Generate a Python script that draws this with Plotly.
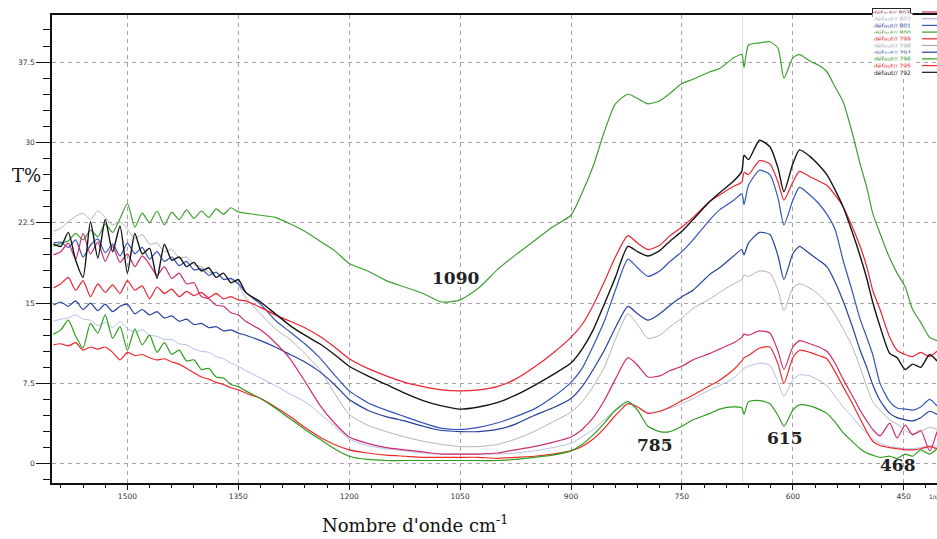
import plotly.graph_objects as go

# ---------------- data ----------------
wavenumber = [1600, 1590, 1580, 1570, 1560, 1550, 1540, 1530, 1520, 1510,
              1500, 1490, 1480, 1470, 1460, 1450, 1440, 1430, 1420, 1410,
              1400, 1390, 1380, 1370, 1360, 1350,
              1340, 1320, 1300, 1280, 1260, 1240, 1220, 1200,
              1175, 1150, 1125, 1100, 1075, 1050, 1025, 1000,
              975, 950, 925, 900,
              885, 870, 855, 840, 823, 810, 796, 780,
              766, 750, 735, 712, 699, 680, 669, 666,
              660, 645, 631, 620, 612, 600, 591, 577,
              565, 554, 543, 532, 520, 509, 500, 492,
              482, 469, 459, 448, 438, 427, 415, 405]

t_800 = [20.3, 20.6, 20.8, 21.5, 20.9, 21.8, 21.2, 22.4, 21.6, 22.9,
         24.3, 22.1, 23.4, 22.5, 23.6, 22.3, 23.5, 22.8, 23.7, 22.9,
         23.6, 23.0, 23.8, 23.3, 23.9, 23.5,
         23.4, 23.2, 23.0, 22.4, 21.7, 20.8, 19.9, 18.7,
         18.0, 17.1, 16.5, 15.9, 15.1, 15.3, 16.4, 18.1,
         19.5, 20.8, 22.1, 23.2,
         25.3, 27.8, 31.0, 33.6, 34.5, 34.1, 33.6, 33.9,
         34.6, 35.5, 35.9, 36.6, 36.9, 37.9, 38.2, 37.0,
         39.1, 39.3, 39.4, 38.8, 36.0, 37.9, 38.2, 37.6,
         37.2, 36.6, 35.2, 33.8, 31.0, 28.0, 25.8, 23.4,
         21.5, 19.2, 17.8, 16.5, 14.4, 13.2, 11.8, 11.5]

t_792 = [20.5, 20.3, 21.6, 19.0, 17.4, 22.6, 19.2, 22.8, 19.8, 22.2,
         17.8, 21.5, 19.6, 20.1, 17.3, 20.5, 19.0, 19.3, 18.4, 18.8,
         18.0, 18.3, 17.4, 17.8, 16.9, 17.2,
         16.0, 15.1, 14.0, 12.9, 12.0, 11.2, 10.2, 9.1,
         8.2, 7.4, 6.6, 5.9, 5.4, 5.1, 5.3, 5.7,
         6.4, 7.3, 8.3, 9.4,
         10.7, 12.5, 14.9, 17.4, 20.3, 19.8, 19.4, 19.9,
         20.8, 21.7, 22.8, 24.5, 25.3, 26.4, 27.3, 28.8,
         28.4, 30.2, 29.6, 27.6, 25.4, 28.0, 29.3, 28.7,
         27.9, 27.0, 25.6, 24.0, 21.7, 19.4, 17.3, 15.1,
         12.8, 10.3, 9.9, 8.8, 9.3, 9.0, 10.2, 9.6]

t_799 = [16.4, 16.8, 17.4, 16.2, 17.1, 15.6, 16.8, 16.0, 16.7, 15.9,
         17.1, 16.2, 16.6, 15.4, 16.5, 15.9, 16.3, 15.6, 16.1, 15.7,
         16.0, 15.5, 15.9, 15.4, 15.6, 15.3,
         15.2, 14.6, 13.9, 13.3, 12.7, 11.9, 10.9, 9.8,
         8.9, 8.2, 7.6, 7.2, 6.9, 6.8, 6.9, 7.2,
         7.9, 9.0, 10.3, 11.8,
         13.0, 14.8, 17.0, 19.3, 21.3, 20.6, 20.0, 20.4,
         21.3, 22.1, 23.0, 24.5, 25.1, 25.9, 26.3, 27.2,
         27.0, 28.3, 28.0, 26.3, 24.6, 26.3, 27.3, 26.8,
         26.4, 26.0, 25.1, 24.0, 22.2, 20.3, 18.4, 16.2,
         14.4, 11.8, 10.6, 10.2, 10.0, 10.4, 10.0, 10.5]

t_801 = [20.6, 20.7, 20.2, 20.9, 19.3, 20.4, 21.0, 19.7, 20.5, 19.4,
         20.6, 19.6, 20.2, 19.1, 19.8, 18.9, 19.3, 18.5, 18.9, 18.1,
         18.2, 17.6, 17.9, 17.2, 17.3, 16.8,
         16.0, 14.9, 13.4, 12.3, 11.2, 9.9, 8.3, 6.8,
         5.7, 5.0, 4.4, 3.8, 3.3, 3.2, 3.4, 3.8,
         4.4, 5.1, 6.2, 7.6,
         8.9, 11.0, 13.3, 16.2, 19.1, 18.3, 17.5, 18.0,
         18.9, 19.8, 20.9, 22.8, 23.7, 24.6, 25.2, 24.2,
         26.0, 27.4, 27.0, 24.8, 22.3, 24.6, 25.8, 25.1,
         24.3, 23.3, 21.9, 19.0, 16.2, 13.5, 11.8, 10.2,
         7.5, 5.8, 5.2, 5.1, 5.0, 5.3, 6.0, 5.4]

t_797 = [14.8, 15.1, 14.7, 15.2, 14.4, 15.0, 14.3, 14.9, 14.2, 14.7,
         14.9, 14.0, 14.4, 13.9, 14.2, 13.6, 13.8, 13.3, 13.5, 13.0,
         13.1, 12.7, 12.8, 12.4, 12.5, 12.2,
         12.0, 11.5, 10.9, 10.2, 9.5, 8.6, 7.4, 6.0,
         5.0, 4.4, 4.0, 3.5, 3.1, 3.0, 3.0, 3.2,
         3.7, 4.5, 5.2, 6.1,
         7.2, 8.8, 10.6, 12.7, 14.7, 14.0, 13.4, 14.0,
         14.8, 15.6, 16.2, 17.7, 18.3, 19.4, 20.0, 19.5,
         20.6, 21.6, 21.4, 19.4, 17.2, 19.6, 20.3, 19.6,
         19.0, 18.4, 17.0, 15.2, 12.9, 10.6, 9.0, 7.4,
         5.9, 4.7, 4.3, 4.1, 4.0, 4.3, 4.9, 4.6]

t_798 = [21.7, 22.0, 22.6, 23.1, 23.4, 22.8, 23.6, 23.0, 22.3, 22.6,
         21.9, 21.0, 21.4, 20.5, 20.6, 19.8, 20.0, 19.2, 19.3, 18.6,
         18.4, 17.9, 17.8, 17.3, 17.2, 16.7,
         15.5, 14.0, 12.6, 11.6, 10.3, 8.8, 6.6, 4.6,
         3.6, 3.0, 2.5, 2.1, 1.8, 1.6, 1.6, 1.8,
         2.3, 3.0, 3.9, 4.8,
         5.8, 7.2, 9.0, 11.6, 14.0, 13.0, 11.7, 12.0,
         12.8, 13.6, 14.5, 15.4, 16.0, 16.8, 17.2, 17.6,
         17.5, 18.0, 17.8, 16.2, 14.3, 16.4, 16.8, 16.4,
         15.8, 15.0, 13.9, 12.6, 11.0, 9.0, 7.2, 5.8,
         5.0, 4.1, 3.7, 3.1, 2.8, 3.0, 3.4, 3.2]

t_803 = [19.5, 19.8, 20.6, 19.1, 21.5, 19.6, 20.7, 18.9, 20.3, 18.8,
         19.6, 18.4, 19.4, 18.6, 17.6, 18.4, 17.3, 17.8, 16.8, 16.9,
         15.6, 15.4, 14.8, 14.7, 14.1, 13.9,
         13.3, 12.5, 11.3, 9.8, 7.7, 5.5, 3.8, 2.5,
         1.9, 1.5, 1.3, 1.1, 0.9, 0.9, 0.9, 1.0,
         1.3, 1.6, 2.0, 2.5,
         3.2, 4.3, 5.9, 7.9, 9.9, 9.2, 8.1, 8.2,
         8.7, 9.1, 9.7, 10.3, 10.7, 11.3, 11.8, 12.1,
         12.0, 12.4, 12.2, 10.5, 8.8, 10.9, 11.5, 11.2,
         10.9, 10.5, 9.4, 7.9, 6.4, 5.0, 4.0, 3.2,
         2.6, 3.8, 2.4, 3.6, 2.7, 3.1, 1.2, 3.0]

t_795 = [11.1, 11.2, 11.0, 11.3, 10.6, 10.9, 10.7, 10.9, 10.4, 9.7,
         10.4, 10.1, 10.2, 9.9, 9.7, 9.8, 9.5, 9.3, 8.9, 8.5,
         8.1, 7.9, 7.6, 7.4, 7.1, 6.9,
         6.6, 6.1, 5.3, 4.4, 3.4, 2.5, 1.8, 1.3,
         1.0, 0.8, 0.7, 0.6, 0.6, 0.6, 0.6, 0.5,
         0.6, 0.7, 0.9, 1.2,
         1.6, 2.3, 3.3, 4.5, 5.6, 5.3, 4.7, 4.9,
         5.3, 5.9, 6.4, 7.3, 7.8, 8.8, 9.6, 9.9,
         10.1, 10.8, 10.9, 9.3, 7.5, 9.9, 10.6, 10.4,
         10.1, 9.8, 8.6, 7.2, 5.7, 4.2, 3.0, 2.1,
         1.7, 1.5, 1.4, 1.3, 1.3, 1.4, 1.6, 1.4]

t_802 = [13.3, 13.5, 13.6, 13.9, 13.5, 13.4, 12.9, 13.2, 12.7, 13.3,
         12.6, 12.3, 12.5, 12.0, 11.9, 11.6, 11.6, 11.2, 11.1, 10.7,
         10.5, 10.4, 10.0, 9.8, 9.4, 9.1,
         8.7, 8.0, 7.3, 6.5, 5.8, 4.7, 3.5, 2.3,
         1.7, 1.4, 1.2, 1.0, 0.9, 0.9, 0.9, 0.9,
         1.0, 1.2, 1.5, 1.9,
         2.5, 3.2, 4.1, 5.0, 5.6, 5.3, 4.8, 4.9,
         5.2, 5.6, 6.1, 6.9, 7.3, 8.0, 8.7, 8.9,
         9.1, 9.4, 9.2, 7.6, 6.3, 7.8, 8.3, 8.2,
         7.8, 7.3, 6.3, 5.3, 4.4, 3.5, 2.8, 2.3,
         1.9, 1.6, 1.5, 1.4, 1.4, 1.5, 1.7, 1.6]

t_796 = [12.1, 12.5, 13.4, 11.9, 10.8, 13.1, 12.2, 13.9, 11.7, 12.8,
         10.6, 12.6, 11.1, 12.0, 10.4, 11.3, 10.2, 10.6, 9.6, 9.7,
         8.8, 8.9, 8.1, 8.0, 7.4, 7.2,
         6.8, 6.1, 5.2, 4.2, 3.2, 2.3, 1.4, 0.7,
         0.4, 0.3, 0.3, 0.3, 0.3, 0.3, 0.3, 0.3,
         0.4, 0.6, 0.8, 1.2,
         1.8, 2.7, 3.8, 5.0, 5.8, 5.0, 3.5, 3.0,
         3.0, 3.5, 4.1, 4.7, 5.1, 5.3, 5.2, 4.6,
         5.8, 5.9, 5.6, 4.5, 3.5, 5.0, 5.5, 5.4,
         5.1, 4.7, 3.9, 2.9, 2.1, 1.4, 1.0, 0.8,
         0.6, 0.7, 0.5, 0.9, 0.7, 1.3, 0.9, 1.4]

legend_names = ["défaut// 803", "défaut// 802", "défaut// 801", "défaut// 800",
                "défaut// 799", "défaut// 798", "défaut// 797", "défaut// 796",
                "défaut// 795", "défaut// 792"]

peak_labels = ["1090", "785", "615", "468"]
peak_x = [1056, 786, 610, 458]
peak_y = [17.3, 1.75, 2.4, -0.1]

co2_band = 668

# ---------------- styling ----------------
series = {
    "défaut// 803": (t_803, "#cc2d6e", 1.2, "#8a1f3c"),
    "défaut// 802": (t_802, "#a9b6e6", 0.9, "#a8b0d4"),
    "défaut// 801": (t_801, "#3455b8", 1.2, "#2b3e9e"),
    "défaut// 800": (t_800, "#3ea030", 1.2, "#2e8f22"),
    "défaut// 799": (t_799, "#ec2330", 1.2, "#e0202a"),
    "défaut// 798": (t_798, "#a8a8b0", 0.9, "#a8a8b0"),
    "défaut// 797": (t_797, "#25409a", 1.2, "#2b3e9e"),
    "défaut// 796": (t_796, "#2f9d1f", 1.2, "#2e8f22"),
    "défaut// 795": (t_795, "#ee2a2a", 1.2, "#e0202a"),
    "défaut// 792": (t_792, "#141414", 1.4, "#222222"),
}
draw_order = ["défaut// 800", "défaut// 798", "défaut// 802", "défaut// 797",
              "défaut// 801", "défaut// 803", "défaut// 795", "défaut// 796",
              "défaut// 799", "défaut// 792"]

fig = go.Figure()
for name in draw_order:
    vals, col, w, _ = series[name]
    fig.add_trace(go.Scatter(x=wavenumber, y=vals, mode="lines", name=name,
                             line=dict(color=col, width=w, shape="spline", smoothing=0.6),
                             showlegend=False))

W, H = 937, 539
ML, MR, MT, MB = 52, 0, 15, 56
pw, ph = W - ML - MR, H - MT - MB

def px_to_paper(px, py):
    return (px - ML) / pw, (H - MB - py) / ph

shapes = [dict(type="line", xref="x", yref="paper", x0=co2_band, x1=co2_band,
               y0=0, y1=1, line=dict(color="#dcdcdc", width=1), layer="below")]
annotations = []

# compact legend (top right)
for i, name in enumerate(legend_names):
    _, col, _, tcol = series[name]
    ypx = 12 + i * 6.7
    xp, yp = px_to_paper(872, ypx)
    ann = dict(xref="paper", yref="paper", x=xp, y=yp, xanchor="left", yanchor="middle",
               text=name, showarrow=False,
               font=dict(family="DejaVu Sans", size=6, color=tcol), bgcolor="white")
    if i == 0:
        ann.update(bordercolor="#222", borderwidth=1, borderpad=0)
    annotations.append(ann)
    x0, _ = px_to_paper(922, ypx)
    shapes.append(dict(type="line", xref="paper", yref="paper", x0=x0, x1=1.0,
                       y0=yp, y1=yp, line=dict(color=col, width=1.2)))

# peak labels
for lab, xv, yv in zip(peak_labels, peak_x, peak_y):
    annotations.append(dict(x=xv, y=yv, xref="x", yref="y", text="<b>" + lab + "</b>",
                            showarrow=False,
                            font=dict(family="DejaVu Serif", size=17, color="#222"),
                            xanchor="center", yanchor="middle"))

# axis titles
xp, yp = px_to_paper(26, 175)
annotations.append(dict(xref="paper", yref="paper", x=xp, y=yp, text="T%", showarrow=False,
                        font=dict(family="DejaVu Serif", size=18, color="#111"),
                        xanchor="center", yanchor="middle"))
xp, yp = px_to_paper(415, 524)
annotations.append(dict(xref="paper", yref="paper", x=xp, y=yp,
                        text="Nombre d'onde cm<sup>-1</sup>", showarrow=False,
                        font=dict(family="DejaVu Serif", size=18, color="#111"),
                        xanchor="center", yanchor="middle"))
xp, yp = px_to_paper(927, 497)
annotations.append(dict(xref="paper", yref="paper", x=xp, y=yp, text="1/cm", showarrow=False,
                        font=dict(family="DejaVu Sans", size=6, color="#333"),
                        xanchor="left", yanchor="middle"))

grid_dash = "4px,4px"
fig.update_layout(
    width=W, height=H,
    margin=dict(l=ML, r=MR, t=MT, b=MB, autoexpand=False),
    paper_bgcolor="white", plot_bgcolor="white",
    showlegend=False,
    shapes=shapes, annotations=annotations,
    xaxis=dict(range=[1602, 405], tick0=0, dtick=150, automargin=False,
               showgrid=True, gridcolor="#aaa2aa", griddash=grid_dash, gridwidth=1,
               showline=True, linecolor="#111", linewidth=1.5, mirror=True,
               ticks="outside", ticklen=5, tickcolor="#111", tickwidth=1,
               minor=dict(dtick=30, tick0=0, ticks="outside", ticklen=3, tickcolor="#111",
                          showgrid=False),
               tickfont=dict(family="DejaVu Sans", size=7.5, color="#333"),
               zeroline=False),
    yaxis=dict(range=[-1.8, 41.9], tick0=0, dtick=7.5, automargin=False,
               showgrid=True, gridcolor="#aaa2aa", griddash=grid_dash, gridwidth=1,
               showline=True, linecolor="#111", linewidth=1.5, mirror=False,
               ticks="outside", ticklen=14, tickcolor="#111", tickwidth=1,
               minor=dict(dtick=1.5, tick0=0, ticks="outside", ticklen=7, tickcolor="#111",
                          showgrid=False),
               tickfont=dict(family="DejaVu Sans", size=7.5, color="#333"),
               zeroline=False),
)

fig.write_html("out.html", config={"displayModeBar": False},
               post_script="document.body.style.margin='0';")
